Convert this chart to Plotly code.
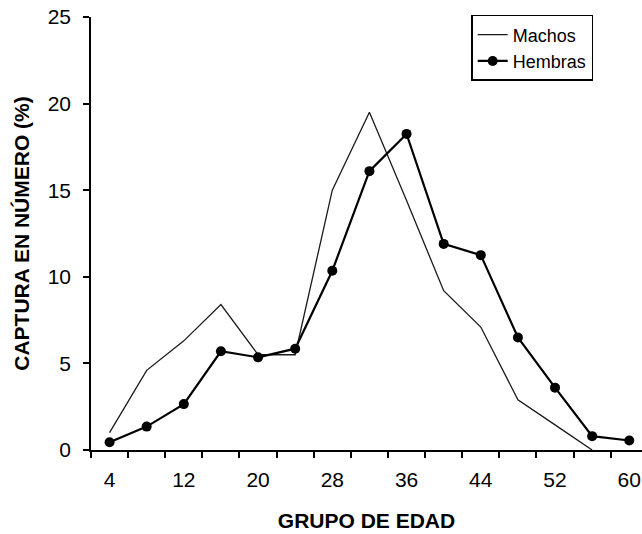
import plotly.graph_objects as go

edad = [4, 8, 12, 16, 20, 24, 28, 32, 36, 40, 44, 48, 52, 56, 60]
machos = [1.0, 4.6, 6.3, 8.4, 5.5, 5.5, 15.0, 19.5, 14.4, 9.2, 7.1, 2.9, 1.45, 0.0]
hembras = [0.45, 1.35, 2.65, 5.7, 5.35, 5.85, 10.35, 16.1, 18.25, 11.9, 11.25, 6.5, 3.6, 0.8, 0.55]
tick_labels = [4, 12, 20, 28, 36, 44, 52, 60]
y_ticks = [0, 5, 10, 15, 20, 25]
boundaries = [2 + 4 * i for i in range(15)]

FONT = "Liberation Sans, Arial, sans-serif"

fig = go.Figure()
fig.add_trace(go.Scatter(
    x=edad[:len(machos)], y=machos, name="Machos", mode="lines",
    line=dict(color="#1a1a1a", width=1.3), cliponaxis=False,
))
fig.add_trace(go.Scatter(
    x=edad, y=hembras, name="Hembras", mode="lines+markers",
    line=dict(color="black", width=2.2),
    marker=dict(color="black", size=10, symbol="circle"),
    cliponaxis=False,
))

fig.update_layout(
    width=642, height=534,
    margin=dict(l=91, r=0, t=17, b=84, autoexpand=False),
    paper_bgcolor="white", plot_bgcolor="white",
    font=dict(family=FONT, color="black", size=21),
    showlegend=True,
    legend=dict(
        x=0.69, y=1.005, xanchor="left", yanchor="top",
        bordercolor="black", borderwidth=1.5, bgcolor="white",
        font=dict(size=18, family=FONT), itemwidth=30,
        tracegroupgap=0,
    ),
)
fig.update_xaxes(
    range=[2, 61.37], automargin=False, ticklabeloverflow="allow",
    tickmode="array", tickvals=tick_labels, ticktext=[str(v) for v in tick_labels],
    ticks="", showgrid=False, zeroline=False,
    showline=True, linecolor="black", linewidth=1.5,
    ticklabelstandoff=10,
    minor=dict(tickmode="array", tickvals=boundaries, ticks="outside",
               ticklen=6, tickwidth=1.5, tickcolor="black", showgrid=False),
    title=dict(text="<b>GRUPO DE EDAD</b>", font=dict(size=21), standoff=23),
)
fig.update_yaxes(
    range=[0, 25], automargin=False, ticklabeloverflow="allow",
    tickmode="array", tickvals=y_ticks,
    ticks="outside", ticklen=6, tickwidth=1.5, tickcolor="black",
    showgrid=False, zeroline=False,
    showline=True, linecolor="black", linewidth=1.5,
    ticklabelstandoff=8,
    title=dict(text="<b>CAPTURA EN NÚMERO (%)</b>", font=dict(size=21), standoff=12),
)

# remove the page's default 8px body margin so the 642x534 figure fills the window
fig.write_html(
    "out.html",
    config={"displayModeBar": False},
    post_script="document.body.style.margin='0';",
)
